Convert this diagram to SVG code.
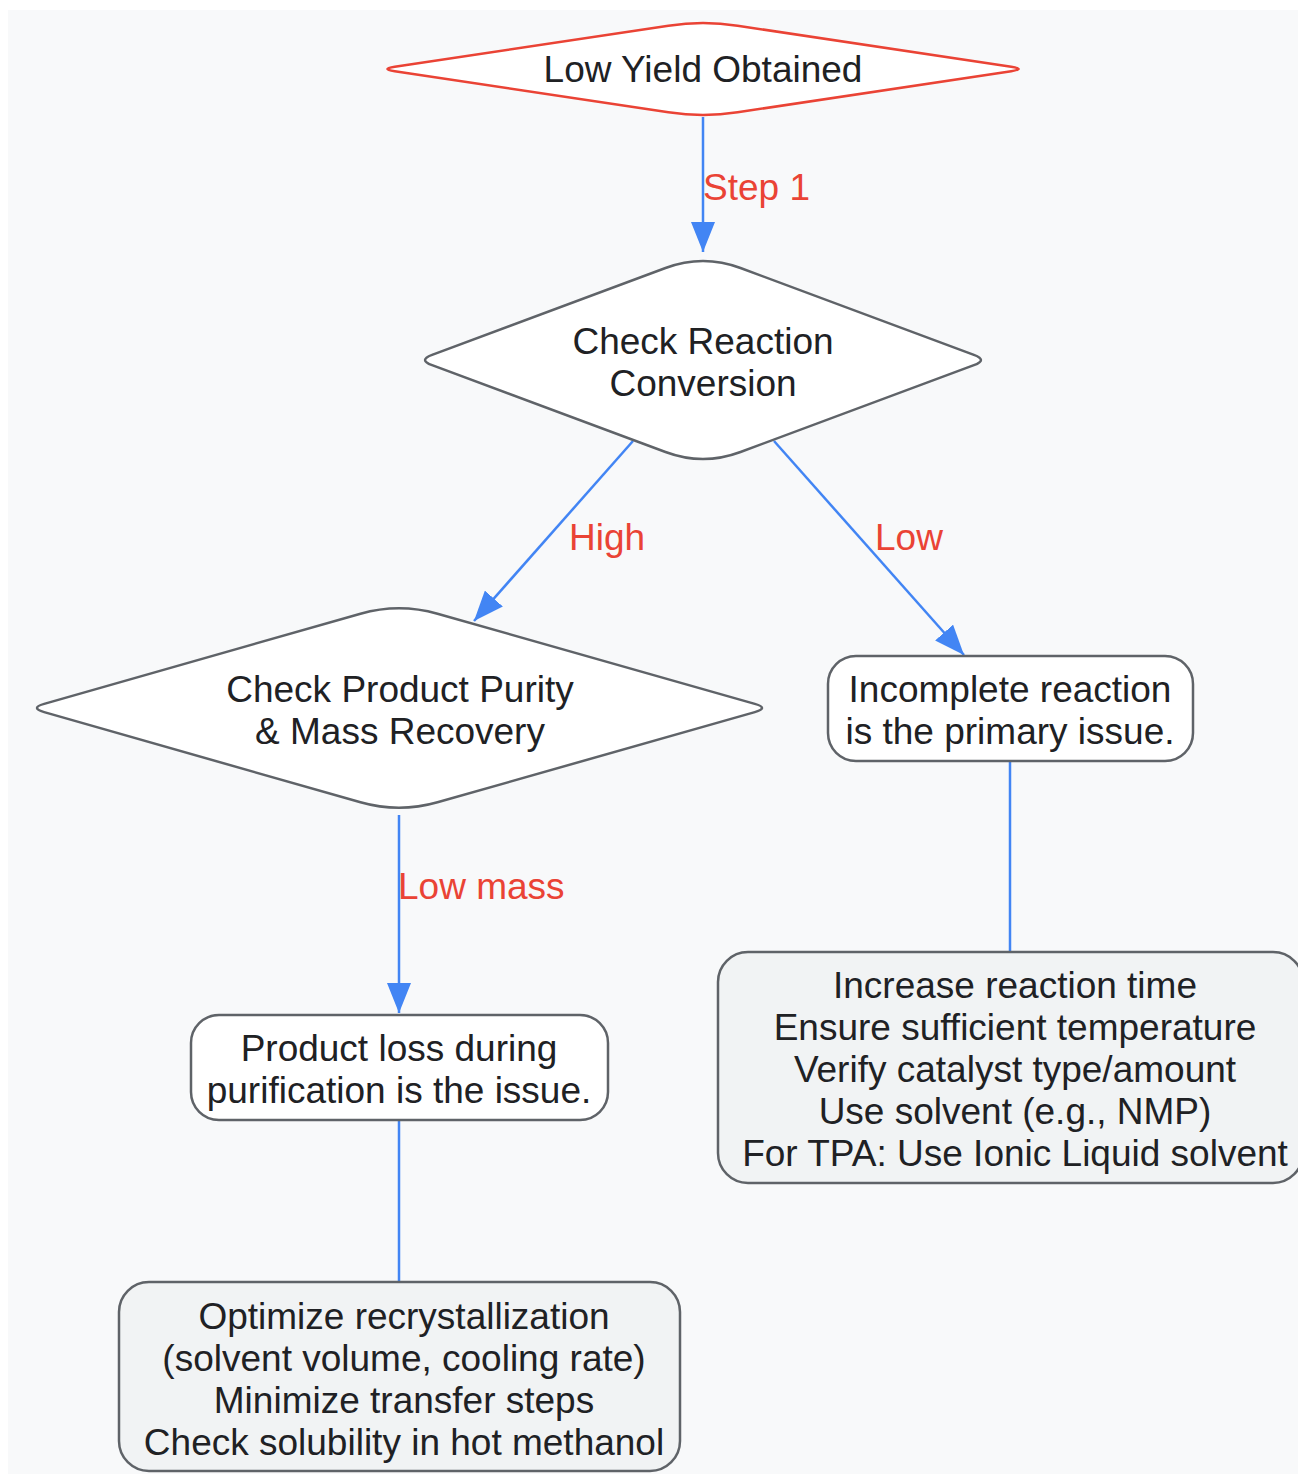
<svg xmlns="http://www.w3.org/2000/svg" width="1298" height="1474" viewBox="0 0 1298 1474">
<defs>
<style>
.bg{fill:#f8f9fa}
.dec{fill:#ffffff;stroke:#5f6368;stroke-width:2.5}
.start{fill:#ffffff;stroke:#ea4335;stroke-width:2.5}
.box{fill:#ffffff;stroke:#5f6368;stroke-width:2.5}
.act{fill:#f1f3f4;stroke:#5f6368;stroke-width:2.5}
.t{font-family:"Liberation Sans",Arial,sans-serif;font-size:37px;fill:#202124;text-anchor:middle}
.lbl{font-family:"Liberation Sans",Arial,sans-serif;font-size:37px;fill:#ea4335}
.edge{fill:none;stroke:#4285f4;stroke-width:2.5}
</style>
<marker id="arr" markerUnits="userSpaceOnUse" viewBox="0 0 30 24" refX="30" refY="12" markerWidth="30" markerHeight="24" orient="auto">
<path d="M0,0 L30,12 L0,24 Z" fill="#4285f4"/>
</marker>
</defs>
<rect class="bg" x="8" y="10" width="1290" height="1464"/>
<g id="connectors">
<line class="edge" x1="703" y1="117" x2="703" y2="252" marker-end="url(#arr)"/>
<line class="edge" x1="633" y1="441" x2="474" y2="621" marker-end="url(#arr)"/>
<line class="edge" x1="774" y1="441" x2="964" y2="655" marker-end="url(#arr)"/>
<line class="edge" x1="399" y1="815" x2="399" y2="1013" marker-end="url(#arr)"/>
<line class="edge" x1="1010" y1="761" x2="1010" y2="951"/>
<line class="edge" x1="399" y1="1120" x2="399" y2="1281"/>
<text class="lbl" x="703" y="200">Step 1</text>
<text class="lbl" x="569" y="550">High</text>
<text class="lbl" x="875" y="550">Low</text>
<text class="lbl" x="398" y="899">Low mass</text>
</g>
<g id="start">
<path class="start" d="M394.8,66.8 L668.4,25.7 Q703,20.5 737.6,25.7 L1011.2,66.8 Q1026,69 1011.2,71.2 L737.6,112.3 Q703,117.5 668.4,112.3 L394.8,71.2 Q380,69 394.8,66.8 Z"/>
<text class="t" x="703" y="82">Low Yield Obtained</text>
</g>
<g id="checkConversion">
<path class="dec" d="M432.1,354.8 L665.5,268 Q703,254 740.5,268 L973.9,354.8 Q988,360 973.9,365.2 L740.5,452 Q703,466 665.5,452 L432.1,365.2 Q418,360 432.1,354.8 Z"/>
<text class="t" x="703" y="354">Check Reaction</text>
<text class="t" x="703" y="396">Conversion</text>
</g>
<g id="checkPurity">
<path class="dec" d="M44.2,703.9 L360.5,613.7 Q399,602.7 437.5,613.7 L754.8,703.9 Q769.2,708 754.8,712.1 L437.5,802.3 Q399,813.3 360.5,802.3 L44.2,712.1 Q29.8,708 44.2,703.9 Z"/>
<text class="t" x="400" y="702">Check Product Purity</text>
<text class="t" x="400" y="744">&amp; Mass Recovery</text>
</g>
<g id="incomplete">
<rect class="box" x="828" y="656" width="365" height="105" rx="28"/>
<text class="t" x="1010" y="702">Incomplete reaction</text>
<text class="t" x="1010" y="744">is the primary issue.</text>
</g>
<g id="fixReaction">
<rect class="act" x="718" y="952" width="585" height="231" rx="30"/>
<text class="t" x="1015" y="998">Increase reaction time</text>
<text class="t" x="1015" y="1040">Ensure sufficient temperature</text>
<text class="t" x="1015" y="1082">Verify catalyst type/amount</text>
<text class="t" x="1015" y="1124">Use solvent (e.g., NMP)</text>
<text class="t" x="1015" y="1166">For TPA: Use Ionic Liquid solvent</text>
</g>
<g id="productLoss">
<rect class="box" x="191" y="1015" width="417" height="105" rx="28"/>
<text class="t" x="399" y="1061">Product loss during</text>
<text class="t" x="399" y="1103">purification is the issue.</text>
</g>
<g id="fixPurification">
<rect class="act" x="119" y="1282" width="561" height="189" rx="30"/>
<text class="t" x="404" y="1329">Optimize recrystallization</text>
<text class="t" x="404" y="1371">(solvent volume, cooling rate)</text>
<text class="t" x="404" y="1413">Minimize transfer steps</text>
<text class="t" x="404" y="1455">Check solubility in hot methanol</text>
</g>
</svg>
